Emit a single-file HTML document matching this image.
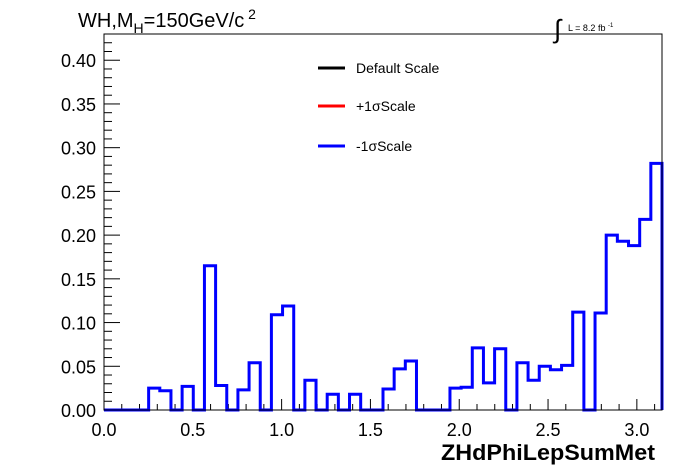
<!DOCTYPE html>
<html><head><meta charset="utf-8"><style>
html,body{margin:0;padding:0;background:#fff;}
svg{display:block;font-family:"Liberation Sans",sans-serif;}
</style></head><body>
<svg id="chart" width="696" height="472" viewBox="0 0 696 472">
<rect x="0" y="0" width="696" height="472" fill="#fff"/>
<g id="ticks"></g>
<path id="hist" fill="none" stroke="#0000ff" stroke-width="3"/>
<rect x="104" y="34" width="558" height="376" fill="none" stroke="#000" stroke-width="1"/>
<text x="78" y="27" font-size="20">WH,M<tspan font-size="14" dy="6">H</tspan><tspan dy="-6">=150GeV/c</tspan><tspan font-size="14" dy="-8"> 2</tspan></text>
<text x="554" y="38" font-size="26" transform="scale(1,1)">∫</text>
<text x="568" y="31" font-size="9">L = 8.2 fb <tspan font-size="6" dy="-4">-1</tspan></text>
<g>
<line x1="318" y1="68" x2="345" y2="68" stroke="#000" stroke-width="3"/>
<text x="356" y="73" font-size="14">Default Scale</text>
<line x1="318" y1="106" x2="345" y2="106" stroke="#ff0000" stroke-width="3"/>
<text x="356" y="111" font-size="14">+1σScale</text>
<line x1="318" y1="146" x2="345" y2="146" stroke="#0000ff" stroke-width="3"/>
<text x="356" y="151" font-size="14">-1σScale</text>
</g>
<text x="441" y="460" font-size="22" font-weight="bold" textLength="214" lengthAdjust="spacingAndGlyphs">ZHdPhiLepSumMet</text>
</svg>
<script>
const binValues = [0,0,0,0,0.025,0.022,0,0.027,0,0.165,0.028,0,0.023,0.054,0,0.109,0.119,0,0.034,0,0.018,0,0.018,0,0,0.024,0.047,0.056,0,0,0,0.025,0.026,0.071,0.031,0.070,0,0.054,0.034,0.050,0.046,0.051,0.112,0,0.111,0.200,0.193,0.188,0.218,0.282];
const xTickLabels = ["0.0","0.5","1.0","1.5","2.0","2.5","3.0"];
const yTickLabels = ["0.00","0.05","0.10","0.15","0.20","0.25","0.30","0.35","0.40"];
const X0=104,X1=662,Y0=410,Y1=34,XMAX=Math.PI,YMAX=0.43;
const sx=v=>X0+v/XMAX*(X1-X0);
const sy=v=>Y0-v/YMAX*(Y0-Y1);
const NS="http://www.w3.org/2000/svg";
const g=document.getElementById('ticks');
function line(x1,y1,x2,y2,name){const l=document.createElementNS(NS,'line');l.setAttribute('x1',x1);l.setAttribute('y1',y1);l.setAttribute('x2',x2);l.setAttribute('y2',y2);l.setAttribute('stroke','#000');l.setAttribute('stroke-width','1');


g.appendChild(l);}
function text(x,y,s,anchor,name){const t=document.createElementNS(NS,'text');t.setAttribute('x',x);t.setAttribute('y',y);t.setAttribute('font-size','18');t.setAttribute('text-anchor',anchor);t.textContent=s;


g.appendChild(t);}
for(let i=0;i<=31;i++){const v=i*0.1;const x=sx(v);const major=i%5===0;line(x,Y0,x,Y0-(major?11:6),'x-tick');}
xTickLabels.forEach(s=>{text(sx(parseFloat(s)),436,s,'middle','x-tick-label');});
for(let i=0;i<=43;i++){const v=i*0.01;const y=sy(v);const major=i%5===0;line(X0,y,X0+(major?16:8),y,'y-tick');}
yTickLabels.forEach(s=>{text(96,sy(parseFloat(s))+7,s,'end','y-tick-label');});
const w=XMAX/binValues.length;
let d='M'+sx(0)+','+sy(0);
binValues.forEach((v,i)=>{d+=' L'+sx(i*w)+','+sy(v)+' L'+sx((i+1)*w)+','+sy(v);});
d+=' L'+sx(XMAX)+','+sy(0);
document.getElementById('hist').setAttribute('d',d);
</script>
</body></html>
